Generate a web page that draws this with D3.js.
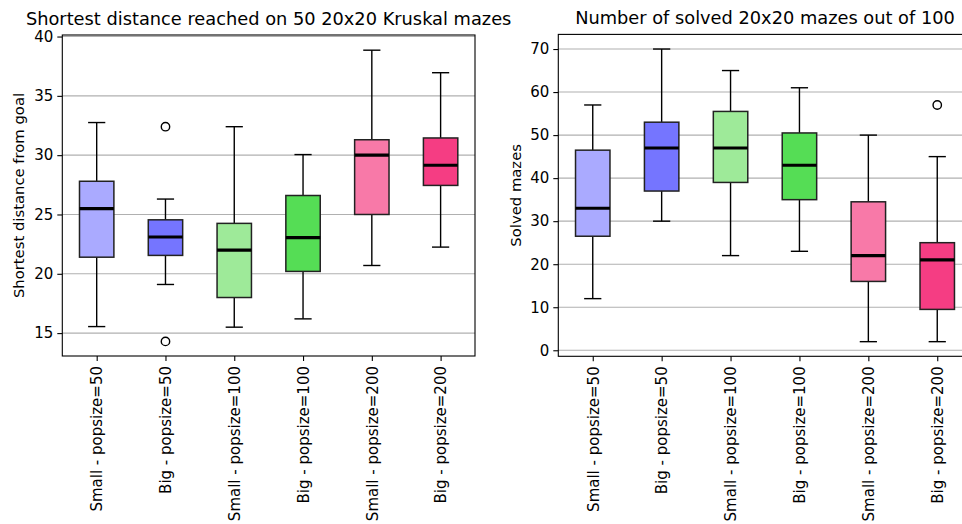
<!DOCTYPE html>
<html>
<head>
<meta charset="utf-8">
<script src="https://cdn.jsdelivr.net/npm/d3@7"></script>
<style>
  body { margin: 0; background: #fff; }
  svg { font-family: "DejaVu Sans", sans-serif; }
</style>
</head>
<body>
<svg id="chart" width="962" height="524"></svg>
<script>
// categories + colours
const categories = ['Small - popsize=50', 'Big - popsize=50', 'Small - popsize=100',
  'Big - popsize=100', 'Small - popsize=200', 'Big - popsize=200'];
const boxColors = ['#aaaaff', '#7575ff', '#9eea99', '#55dd55', '#f879a8', '#f53d83'];

// left: shortest distance
const distLow = [15.55, 19.1, 15.5, 16.2, 20.7, 22.25];
const distQ1 = [21.4, 21.55, 18.0, 20.2, 25.0, 27.45];
const distMedian = [25.5, 23.1, 22.0, 23.05, 30.0, 29.15];
const distQ3 = [27.8, 24.55, 24.25, 26.6, 31.3, 31.45];
const distHigh = [32.75, 26.3, 32.4, 30.05, 38.85, 36.95];
const distOutliers = [[], [32.4, 14.3], [], [], [], []];
const distTicks = [15, 20, 25, 30, 35, 40];

// right: solved mazes
const solvedLow = [12, 30, 22, 23, 2, 2];
const solvedQ1 = [26.5, 37, 39, 35, 16, 9.5];
const solvedMedian = [33, 47, 47, 43, 22, 21];
const solvedQ3 = [46.5, 53, 55.5, 50.5, 34.5, 25];
const solvedHigh = [57, 70, 65, 61, 50, 45];
const solvedOutliers = [[], [], [], [], [], [57]];
const solvedTicks = [0, 10, 20, 30, 40, 50, 60, 70];

const svg = d3.select('#chart');

function boxplot(opts) {
  const {left, right, top, bottom, title, ylabel, ylabelX, domain, ticks,
    low, q1, med, q3, high, outliers} = opts;

  const g = svg.append('g');

  const x = d3.scalePoint()
    .domain(categories)
    .range([left, right])
    .padding(0.5);
  const y = d3.scaleLinear()
    .domain(domain)
    .range([bottom, top]);
  const boxW = x.step() * 0.5;
  const capW = boxW * 0.5;

  // grid
  g.append('g')
    .selectAll('line')
    .data(ticks)
    .enter().append('line')
    .attr('x1', left).attr('x2', right)
    .attr('y1', d => y(d)).attr('y2', d => y(d))
    .attr('stroke', '#b0b0b0')
    .attr('stroke-width', 1.1);

  const boxes = g.selectAll('g.box')
    .data(categories)
    .enter().append('g')
    .attr('class', 'box');

  // whiskers
  boxes.append('line')
    .attr('x1', d => x(d)).attr('x2', d => x(d))
    .attr('y1', (d, i) => y(q3[i])).attr('y2', (d, i) => y(high[i]))
    .attr('stroke', '#000').attr('stroke-width', 1.4);
  boxes.append('line')
    .attr('x1', d => x(d)).attr('x2', d => x(d))
    .attr('y1', (d, i) => y(q1[i])).attr('y2', (d, i) => y(low[i]))
    .attr('stroke', '#000').attr('stroke-width', 1.4);
  boxes.append('line')
    .attr('x1', d => x(d) - capW / 2).attr('x2', d => x(d) + capW / 2)
    .attr('y1', (d, i) => y(high[i])).attr('y2', (d, i) => y(high[i]))
    .attr('stroke', '#000').attr('stroke-width', 1.4);
  boxes.append('line')
    .attr('x1', d => x(d) - capW / 2).attr('x2', d => x(d) + capW / 2)
    .attr('y1', (d, i) => y(low[i])).attr('y2', (d, i) => y(low[i]))
    .attr('stroke', '#000').attr('stroke-width', 1.4);

  // boxes
  boxes.append('rect')
    .attr('x', d => x(d) - boxW / 2)
    .attr('width', boxW)
    .attr('y', (d, i) => y(q3[i]))
    .attr('height', (d, i) => y(q1[i]) - y(q3[i]))
    .attr('fill', (d, i) => boxColors[i])
    .attr('stroke', '#222')
    .attr('stroke-width', 1.5);

  // medians
  boxes.append('line')
    .attr('x1', d => x(d) - boxW / 2).attr('x2', d => x(d) + boxW / 2)
    .attr('y1', (d, i) => y(med[i])).attr('y2', (d, i) => y(med[i]))
    .attr('stroke', '#000').attr('stroke-width', 3.2);

  // fliers
  boxes.each(function(d, i) {
    d3.select(this).selectAll('circle')
      .data(outliers[i])
      .enter().append('circle')
      .attr('cx', x(d))
      .attr('cy', v => y(v))
      .attr('r', 4.2)
      .attr('fill', 'none')
      .attr('stroke', '#000')
      .attr('stroke-width', 1.4);
  });

  // axes
  const yAxis = g.append('g')
    .attr('transform', `translate(${left},0)`)
    .call(d3.axisLeft(y).tickValues(ticks).tickSize(5).tickPadding(4).tickFormat(d3.format('d')));
  yAxis.select('.domain').remove();
  yAxis.selectAll('text').attr('font-size', 15).attr('fill', '#000')
    .attr('font-family', '"DejaVu Sans", sans-serif');
  yAxis.selectAll('line').attr('stroke-width', 1.1);

  const xAxis = g.append('g')
    .attr('transform', `translate(0,${bottom})`)
    .call(d3.axisBottom(x).tickSize(5).tickPadding(0));
  xAxis.select('.domain').remove();
  xAxis.selectAll('line').attr('stroke-width', 1.1);
  xAxis.selectAll('text')
    .attr('font-size', 15)
    .attr('fill', '#000')
    .attr('font-family', '"DejaVu Sans", sans-serif')
    .attr('text-anchor', 'end')
    .attr('transform', 'rotate(-90)')
    .attr('x', -10)
    .attr('y', 0)
    .attr('dy', '0.35em');

  // frame
  g.append('rect')
    .attr('x', left).attr('y', top)
    .attr('width', right - left).attr('height', bottom - top)
    .attr('fill', 'none')
    .attr('stroke', '#000')
    .attr('stroke-width', 1.1);

  g.append('text')
    .attr('x', (left + right) / 2)
    .attr('y', top - 10)
    .attr('text-anchor', 'middle')
    .attr('font-size', 17.8)
    .text(title);

  g.append('text')
    .attr('transform', `translate(${ylabelX},${(top + bottom) / 2}) rotate(-90)`)
    .attr('text-anchor', 'middle')
    .attr('font-size', 14.8)
    .text(ylabel);
}

boxplot({
  left: 62.3, right: 475, top: 35, bottom: 356,
  title: 'Shortest distance reached on 50 20x20 Kruskal mazes',
  ylabel: 'Shortest distance from goal', ylabelX: 24,
  domain: [13.07, 40.13], ticks: distTicks,
  low: distLow, q1: distQ1, med: distMedian, q3: distQ3, high: distHigh,
  outliers: distOutliers
});

boxplot({
  left: 558.3, right: 971.7, top: 34.4, bottom: 356.3,
  title: 'Number of solved 20x20 mazes out of 100',
  ylabel: 'Solved mazes', ylabelX: 521,
  domain: [-1.4, 73.4], ticks: solvedTicks,
  low: solvedLow, q1: solvedQ1, med: solvedMedian, q3: solvedQ3, high: solvedHigh,
  outliers: solvedOutliers
});
</script>
</body>
</html>
